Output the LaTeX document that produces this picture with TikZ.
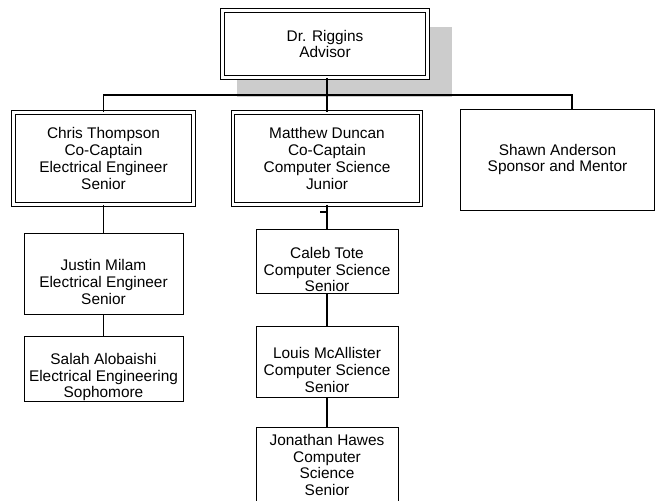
\documentclass[tikz,border=0pt]{standalone}
\usepackage{fontspec}
\setmainfont{Liberation Sans}
\usepackage{tikz}
\usetikzlibrary{shadows}
\newcommand{\orglw}{0.8pt}
\tikzset{orgbox/.style={rectangle, draw, fill=white, line width=\orglw, inner sep=0pt, align=center, font=\fontsize{15.4}{16.7}\selectfont}}
\tikzset{capbox/.style={orgbox, double, double distance=2.6pt}}
\tikzset{orgline/.style={line width=1.1pt}}

\begin{document}
\begin{tikzpicture}[x=1pt,y=-1pt]
\useasboundingbox (0,0) rectangle (655,500);
\clip (0,0) rectangle (655,500);

% top
\node[capbox, minimum width=205pt, minimum height=67pt, drop shadow={shadow xshift=18.5pt, shadow yshift=-17pt, shadow scale=1.05, fill=black!20, opacity=1}] (advisor) at (325,44) {Dr. Riggins\\Advisor};

% second row
\node[capbox, minimum width=180pt, minimum height=92pt] (chris) at (103.5,158.5) {Chris Thompson\\Co-Captain\\Electrical Engineer\\Senior};
\node[capbox, minimum width=188pt, minimum height=92pt] (matthew) at (327,158.5) {Matthew Duncan\\Co-Captain\\Computer Science\\Junior};
\node[orgbox, minimum width=194pt, minimum height=101pt] (shawn) at (557.5,159.5) {Shawn Anderson\\Sponsor and Mentor};

% left column
\node[orgbox, minimum width=159pt, minimum height=81pt] (justin) at (103.5,273.5) {\strut\\Justin Milam\\Electrical Engineer\\Senior};
\node[orgbox, minimum width=159pt, minimum height=63pt] (salah) at (103.5,368.5) {\strut\\Salah Alobaishi\\Electrical Engineering\\Sophomore};

% middle column
\node[orgbox, minimum width=142pt, minimum height=64pt] (caleb) at (327,261) {\strut\\Caleb Tote\\Computer Science\\Senior};
\node[orgbox, minimum width=142pt, minimum height=71pt] (louis) at (327,361.5) {\strut\\Louis McAllister\\Computer Science\\Senior};
\node[orgbox, minimum width=142pt, minimum height=76pt] (jonathan) at (327,465) {Jonathan Hawes\\Computer\\Science\\Senior};

% connectors
\coordinate (busR) at (572,95);
\draw[orgline] (chris.north) |- (busR) -- (busR |- shawn.north);
\draw[orgline] (advisor.south -| matthew.north) -- (matthew.north);
\draw[orgline] (chris) -- (justin);
\draw[orgline] (justin) -- (salah);
\draw[orgline] (matthew) -- (caleb);
\coordinate (stub) at (320,212);
\draw[orgline] (stub) -- (stub -| caleb);
\draw[orgline] (caleb) -- (louis);
\draw[orgline] (louis) -- (jonathan);

\end{tikzpicture}
\end{document}
